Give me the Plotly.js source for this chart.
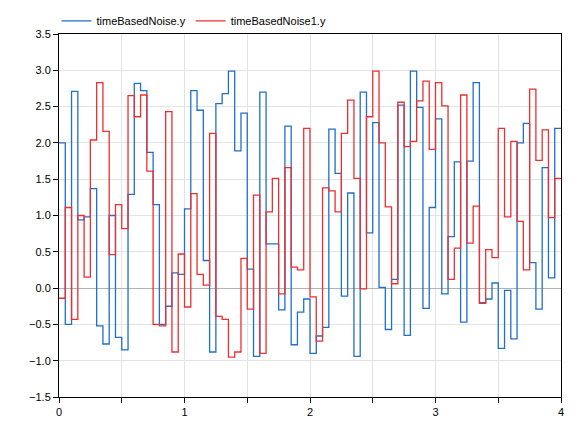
<!DOCTYPE html>
<html>
<head>
<meta charset="utf-8">
<script src="https://cdn.plot.ly/plotly-3.0.1.min.js"></script>
<style>html,body{margin:0;padding:0;background:#fff;}#chart{width:586px;height:422px;}</style>
</head>
<body>
<div id="chart"></div>
<script>
var samplePeriod = 0.05;
var seriesNames = ["timeBasedNoise.y", "timeBasedNoise1.y"];
var noiseBlue = [2.0,-0.50,2.71,0.94,0.98,1.37,-0.52,-0.77,1.0,-0.68,
  -0.85,1.29,2.82,2.72,1.87,1.15,-0.50,-0.25,0.21,0.19,
  1.09,2.72,2.45,0.38,-0.88,2.54,2.68,2.99,1.89,2.41,
  0.26,-0.94,2.70,0.61,0.61,-0.30,2.23,-0.78,-0.33,-0.15,
  -0.90,-0.66,-0.54,2.19,1.58,-0.11,1.31,-0.94,2.70,0.76,
  2.28,0.01,-0.57,0.12,2.52,-0.65,2.99,2.49,-0.28,1.11,
  2.33,-0.08,0.71,1.74,-0.47,1.75,2.83,-0.20,-0.15,0.07,
  -0.83,-0.03,-0.70,2.0,2.27,0.35,-0.29,1.66,0.14,2.20];
var noiseRed = [-0.14,1.11,-0.43,1.0,0.15,2.04,2.83,2.16,0.46,1.15,
  0.82,2.65,2.36,2.66,1.61,-0.50,-0.52,2.43,-0.88,0.47,
  -0.26,1.30,0.19,0.04,2.13,-0.39,-0.43,-0.95,-0.88,0.41,
  -0.29,1.28,-0.90,1.05,1.51,-0.08,1.66,0.29,0.25,2.20,
  -0.12,-0.73,1.38,1.34,1.05,2.13,2.59,1.51,-0.01,2.36,
  2.99,2.0,1.12,0.06,2.56,1.95,2.02,2.58,2.85,1.91,
  2.83,2.51,0.12,0.55,2.66,0.62,1.13,-0.21,0.53,0.42,
  2.20,0.98,2.02,0.92,0.25,2.74,1.76,2.18,0.97,1.51];
var xTickVals = [0,0.5,1,1.5,2,2.5,3,3.5,4];
var xTickText = ["0","","1","","2","","3","","4"];

function stepXY(vals){
  var x=[], y=[];
  for(var i=0;i<vals.length;i++){ x.push(+(i*samplePeriod).toFixed(4)); y.push(vals[i]); }
  x.push(+(vals.length*samplePeriod).toFixed(4)); y.push(vals[vals.length-1]);
  return {x:x,y:y};
}
var b = stepXY(noiseBlue), r = stepXY(noiseRed);
var traces = [
  {x:b.x, y:b.y, name:seriesNames[0], type:'scatter', mode:'lines', line:{shape:'hv', color:'#1f6fcc', width:1.3}},
  {x:r.x, y:r.y, name:seriesNames[1], type:'scatter', mode:'lines', line:{shape:'hv', color:'#ee2e2f', width:1.3}}
];
var layout = {
  width:586, height:422,
  margin:{l:59, r:25, t:34, b:25, pad:0, autoexpand:false},
  paper_bgcolor:'#fff', plot_bgcolor:'#fff',
  font:{family:'Liberation Sans, Arial, sans-serif', size:11, color:'#000'},
  showlegend:true,
  legend:{orientation:'h', x:-0.005, xanchor:'left', yref:'container', y:0.985, yanchor:'top', font:{size:11}, itemwidth:30, bgcolor:'rgba(0,0,0,0)', tracegroupgap:0},
  xaxis:{range:[0,4], tickvals:xTickVals, ticktext:xTickText, ticks:'outside', ticklen:5, tickcolor:'#000',
    showgrid:true, gridcolor:'#e3e3e3', zeroline:false, showline:true, linecolor:'#000', linewidth:1, mirror:true, fixedrange:true},
  yaxis:{range:[-1.5,3.5], dtick:0.5, tick0:0, tickformat:'.1f', ticks:'outside', ticklen:5, tickcolor:'#000',
    showgrid:true, gridcolor:'#e3e3e3', zeroline:true, zerolinecolor:'#b4b4b4', zerolinewidth:1, showline:true, linecolor:'#000', linewidth:1, mirror:true, fixedrange:true}
};
Plotly.newPlot('chart', traces, layout, {displayModeBar:false, staticPlot:true});
</script>
</body>
</html>
